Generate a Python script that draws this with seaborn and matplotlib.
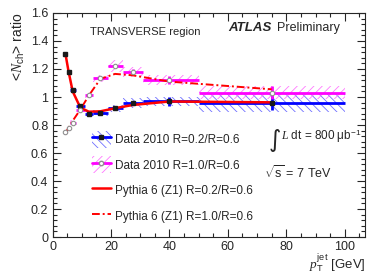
import matplotlib
matplotlib.use("Agg")
import numpy as np
import pandas as pd
import seaborn as sns
import matplotlib.pyplot as plt
from matplotlib.patches import Patch
from matplotlib.lines import Line2D
from matplotlib.ticker import MultipleLocator, FuncFormatter

# data
bin_lo = [4, 5, 6, 8, 11, 14, 19, 24, 31, 50]
bin_hi = [5, 6, 8, 11, 14, 19, 24, 31, 50, 100]
pt_mid = [4.4, 5.5, 6.9, 9.5, 12.4, 16.4, 21.4, 27.4, 40, 75]

r02 = [1.307, 1.176, 1.05, 0.938, 0.879, 0.888, 0.921, 0.96, 0.968, 0.955]
r02_stat = [0.01, 0.01, 0.01, 0.01, 0.01, 0.01, 0.012, 0.015, 0.03, 0.05]
r02_sys = [0.02, 0.02, 0.02, 0.02, 0.02, 0.022, 0.025, 0.035, 0.035, 0.065]

r10 = [0.748, 0.776, 0.818, 0.905, 1.014, 1.134, 1.222, 1.178, 1.121, 1.031]
r10_stat = [0.01, 0.01, 0.01, 0.01, 0.01, 0.012, 0.015, 0.02, 0.03, 0.045]
r10_sys = [0.015, 0.015, 0.015, 0.02, 0.02, 0.025, 0.04, 0.036, 0.033, 0.045]

py02 = [1.31, 1.18, 1.04, 0.925, 0.895, 0.898, 0.92, 0.943, 0.968, 0.962]
py10 = [0.745, 0.78, 0.83, 0.91, 1.01, 1.13, 1.165, 1.155, 1.11, 1.055]

labels = ["Data 2010 R=0.2/R=0.6", "Data 2010 R=1.0/R=0.6",
          "Pythia 6 (Z1) R=0.2/R=0.6", "Pythia 6 (Z1) R=1.0/R=0.6"]

sns.set_theme(style="ticks")
plt.rcParams['font.family'] = ['Liberation Sans', 'DejaVu Sans']
plt.rcParams['mathtext.fontset'] = 'custom'
plt.rcParams['mathtext.rm'] = 'Liberation Sans'
plt.rcParams['mathtext.it'] = 'Liberation Serif:italic'
plt.rcParams['hatch.linewidth'] = 0.6

blue = "#0000ff"
mag = "#ff00ff"
blue_h = "#7070ff"
mag_h = "#ff78ff"

fig = plt.figure(figsize=(3.7, 2.76), dpi=100)
ax = fig.add_axes([0.142, 0.141, 0.845, 0.812])

# systematic bands
for lo, hi, y, s in zip(bin_lo, bin_hi, r02, r02_sys):
    ax.fill_between([lo, hi], [y - s] * 2, [y + s] * 2, facecolor="none",
                    edgecolor=blue_h, hatch="\\\\\\\\", linewidth=0, zorder=1)
for lo, hi, y, s in zip(bin_lo, bin_hi, r10, r10_sys):
    ax.fill_between([lo, hi], [y - s] * 2, [y + s] * 2, facecolor="none",
                    edgecolor=mag_h, hatch="////", linewidth=0, zorder=1)

x = np.array(pt_mid)
xerr = [x - np.array(bin_lo), np.array(bin_hi) - x]

ax.errorbar(pt_mid, r02, xerr=xerr, yerr=r02_stat, fmt="none", ecolor=blue,
            elinewidth=2, capsize=0, zorder=3)
ax.errorbar(pt_mid, r10, xerr=xerr, yerr=r10_stat, fmt="none", ecolor=mag,
            elinewidth=2, capsize=0, zorder=3)

df = pd.DataFrame({"pt": pt_mid, "py02": py02, "py10": py10})
sns.lineplot(data=df, x="pt", y="py02", color="red", lw=1.8, ax=ax, zorder=4)
sns.lineplot(data=df, x="pt", y="py10", color="red", lw=1.4, ax=ax, zorder=4,
             linestyle=(0, (4, 1.5, 1, 1.5)))

ax.plot(pt_mid, r02, "s", color="k", ms=3.5, zorder=5)
ax.plot(pt_mid, r10, "o", mfc="white", mec="#909090", mew=0.8, ms=3.2, zorder=5)

ax.set_xlim(0, 107)
ax.set_ylim(0, 1.6)
ax.xaxis.set_major_locator(MultipleLocator(20))
ax.xaxis.set_minor_locator(MultipleLocator(5))
ax.yaxis.set_major_locator(MultipleLocator(0.2))
ax.yaxis.set_minor_locator(MultipleLocator(0.04))
ax.yaxis.set_major_formatter(FuncFormatter(lambda v, p: "%g" % round(v, 2)))
ax.tick_params(which="both", direction="in", top=True, right=True, width=0.8)
ax.tick_params(which="major", length=6, labelsize=9, pad=3)
ax.tick_params(which="minor", length=3)
for sp in ax.spines.values():
    sp.set_linewidth(0.8)

ax.set_xlabel(r"$p_{\rm T}^{\rm jet}$ [GeV]", loc="right", fontsize=9.5)
ax.xaxis.set_label_coords(1.0, -0.066)
ax.set_ylabel(r"<$N_{\rm ch}$> ratio", loc="top", fontsize=10, labelpad=3)

ax.text(0.119, 0.915, "TRANSVERSE region", transform=ax.transAxes,
        fontsize=8.1, va="center")
ax.text(0.563, 0.935, "ATLAS", transform=ax.transAxes, fontsize=9.5,
        fontweight="bold", fontstyle="italic", va="center")
ax.text(0.718, 0.935, "Preliminary", transform=ax.transAxes, fontsize=9,
        va="center")
ax.text(0.69, 0.435, "\u222b", transform=ax.transAxes, fontsize=17,
        va="center", family=["DejaVu Sans"])
ax.text(0.732, 0.45, r"$L$ dt = 800 μb$^{-1}$", transform=ax.transAxes,
        fontsize=8.5, va="center")
ax.text(0.675, 0.29, r"$\sqrt{\rm s}$ = 7 TeV", transform=ax.transAxes,
        fontsize=9, va="center")

handles = [
    (Patch(facecolor="none", edgecolor=blue_h, hatch="\\\\\\\\", lw=0),
     Line2D([], [], color=blue, lw=2, marker="s", mfc="k", mec="k", ms=3.5)),
    (Patch(facecolor="none", edgecolor=mag_h, hatch="////", lw=0),
     Line2D([], [], color=mag, lw=2, marker="o", mfc="white", mec="#909090", ms=3.2)),
    Line2D([], [], color="red", lw=1.8),
    Line2D([], [], color="red", lw=1.4, linestyle=(0, (4, 1.5, 1, 1.5))),
]
ax.legend(handles, labels, loc="upper left", bbox_to_anchor=(0.11, 0.495),
          frameon=False, fontsize=8.5, handlelength=1.6, handleheight=1.8,
          labelspacing=0.75, handletextpad=0.4, borderaxespad=0)

fig.savefig("out.png", dpi=100)
